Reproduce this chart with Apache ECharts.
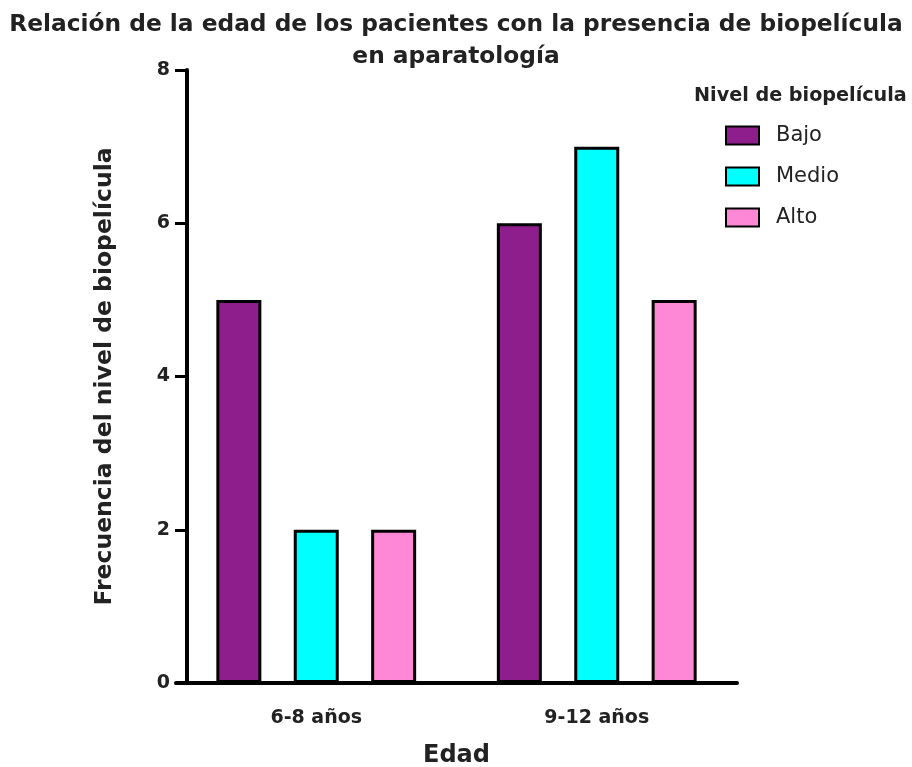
<!DOCTYPE html>
<html>
<head>
<meta charset="utf-8">
<script src="https://cdn.jsdelivr.net/npm/echarts@6/dist/echarts.min.js"></script>
<style>html,body{margin:0;padding:0;background:#fff;}#c{width:912px;height:767px;}</style>
</head>
<body>
<div id="c"></div>
<script>
const categories = ['6-8 años', '9-12 años'];
const seriesNames = ['Bajo', 'Medio', 'Alto'];
const bajo = [5, 6];
const medio = [2, 7];
const alto = [2, 5];
const yTicks = [0, 2, 4, 6, 8];

const FONT = '"DejaVu Sans", "Liberation Sans", Arial, sans-serif';
const colors = ['#8E1E8C', '#00FFFF', '#FF88D6'];
const values = [bajo, medio, alto];

const chart = echarts.init(document.getElementById('c'), null, {renderer: 'canvas'});
chart.setOption({
  animation: false,
  backgroundColor: '#ffffff',
  title: [
    {
      text: 'Relación de la edad de los pacientes con la presencia de biopelícula\nen aparatología',
      left: 'center', top: 4,
      textStyle: {fontFamily: FONT, fontWeight: 'bold', fontSize: 23.3, color: '#222', lineHeight: 32}
    },
    {
      text: 'Nivel de biopelícula',
      left: 689, top: 82,
      textStyle: {fontFamily: FONT, fontWeight: 'bold', fontSize: 19.2, color: '#222'}
    }
  ],
  legend: {
    orient: 'vertical',
    left: 725, top: 125,
    padding: 0,
    icon: 'rect',
    itemWidth: 33, itemHeight: 18, itemGap: 20,
    textStyle: {fontFamily: FONT, fontSize: 21, color: '#222', padding: [0, 0, 0, 12], lineHeight: 21},
    data: seriesNames
  },
  grid: {left: 176, top: 70, width: 561, height: 613, containLabel: false, outerBoundsMode: 'none'},
  xAxis: {
    type: 'category',
    data: categories,
    boundaryGap: true,
    name: 'Edad', nameLocation: 'middle', nameGap: 61,
    nameTextStyle: {fontFamily: FONT, fontWeight: 'bold', fontSize: 24, color: '#222'},
    axisLine: {lineStyle: {color: '#000', width: 4}},
    axisTick: {alignWithLabel: true, length: 14, lineStyle: {color: '#000', width: 4}},
    axisLabel: {fontFamily: FONT, fontWeight: 'bold', fontSize: 19, color: '#222', margin: 26}
  },
  yAxis: {
    type: 'value',
    min: 0, max: 8, interval: 2,
    offset: -11,
    name: 'Frecuencia del nivel de biopelícula', nameLocation: 'middle', nameGap: 70,
    nameTextStyle: {fontFamily: FONT, fontWeight: 'bold', fontSize: 23.5, color: '#222'},
    axisLine: {show: true, lineStyle: {color: '#000', width: 4}},
    axisTick: {show: true, length: 12, lineStyle: {color: '#000', width: 3}},
    axisLabel: {fontFamily: FONT, fontWeight: 'bold', fontSize: 19, color: '#222', margin: 17,
      formatter: v => yTicks.includes(v) ? String(v) : ''},
    splitLine: {show: false}
  },
  series: seriesNames.map((n, i) => ({
    name: n,
    type: 'bar',
    data: values[i],
    barWidth: 45,
    barGap: '72%',
    itemStyle: {color: colors[i], borderColor: '#000', borderWidth: 3}
  }))
});
</script>
</body>
</html>
